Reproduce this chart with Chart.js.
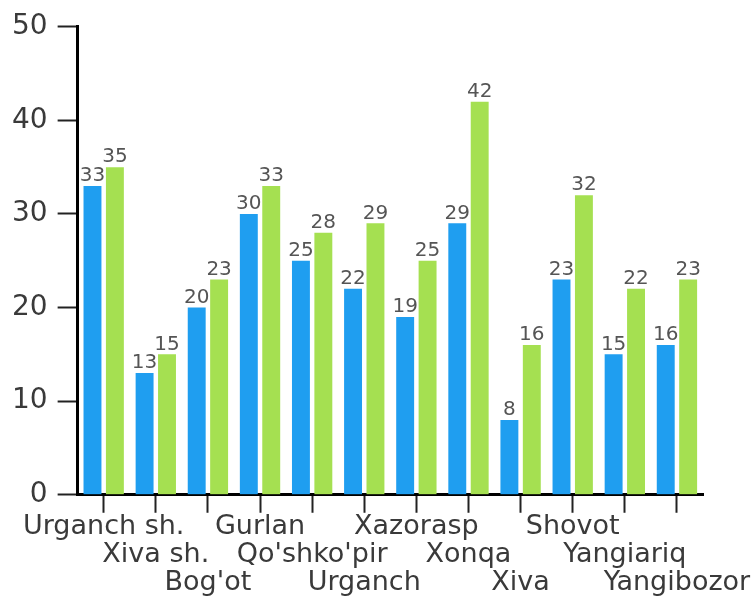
<!DOCTYPE html>
<html>
<head>
<meta charset="utf-8">
<script src="https://cdn.jsdelivr.net/npm/chart.js@4.4.1/dist/chart.umd.min.js"></script>
<style>
  html, body { margin: 0; padding: 0; background: #fff; }
  #wrap { width: 756px; height: 601px; }
</style>
</head>
<body>
<div id="wrap"><canvas id="barChart"></canvas></div>
<script>
// tumanlar
const districts = ['Urganch sh.', 'Xiva sh.', "Bog'ot", 'Gurlan', "Qo'shko'pir", 'Urganch',
  'Xazorasp', 'Xonqa', 'Xiva', 'Shovot', 'Yangiariq', 'Yangibozor'];
const seriesBlue = [33, 13, 20, 30, 25, 22, 19, 29, 8, 23, 15, 16];
const seriesGreen = [35, 15, 23, 33, 28, 29, 25, 42, 16, 32, 22, 23];
const yTicks = [0, 10, 20, 30, 40, 50];

// labels are staggered on 3 rows
const labels = districts.map((d, i) => Array(i % 3).fill('').concat([d]));

const valueLabels = {
  id: 'valueLabels',
  afterDatasetsDraw(chart) {
    const ctx = chart.ctx;
    ctx.save();
    ctx.font = '20px "DejaVu Sans"';
    ctx.fillStyle = '#555';
    ctx.textAlign = 'center';
    ctx.textBaseline = 'bottom';
    chart.data.datasets.forEach((ds, di) => {
      chart.getDatasetMeta(di).data.forEach((bar, i) => {
        ctx.fillText(ds.data[i], bar.x, bar.y);
      });
    });
    ctx.restore();
  }
};

new Chart(document.getElementById('barChart').getContext('2d'), {
  type: 'bar',
  data: {
    labels,
    datasets: [
      { data: seriesBlue, backgroundColor: '#1f9ef0' },
      { data: seriesGreen, backgroundColor: '#a5e051' }
    ]
  },
  options: {
    responsive: true,
    maintainAspectRatio: false,
    animation: false,
    categoryPercentage: 0.86,
    barPercentage: 0.8,
    layout: { padding: { top: 25, right: 53, left: 2, bottom: 4 } },
    plugins: { legend: { display: false }, tooltip: { enabled: false } },
    scales: {
      x: {
        grid: { offset: false, drawOnChartArea: false, tickLength: 18, tickColor: '#222', tickWidth: 2 },
        border: { color: '#000', width: 3 },
        ticks: {
          autoSkip: false, maxRotation: 0, minRotation: 0, padding: 0,
          color: '#3a3a3a', font: { family: 'DejaVu Sans', size: 27, lineHeight: 1.04 }
        }
      },
      y: {
        min: 0, max: 50,
        afterBuildTicks: axis => { axis.ticks = yTicks.map(v => ({ value: v })); },
        grid: { drawOnChartArea: false, tickLength: 20, tickColor: '#222', tickWidth: 2 },
        border: { color: '#000', width: 3 },
        ticks: { padding: 10, color: '#3a3a3a', font: { family: 'DejaVu Sans', size: 28 } }
      }
    }
  },
  plugins: [valueLabels]
});
</script>
</body>
</html>
